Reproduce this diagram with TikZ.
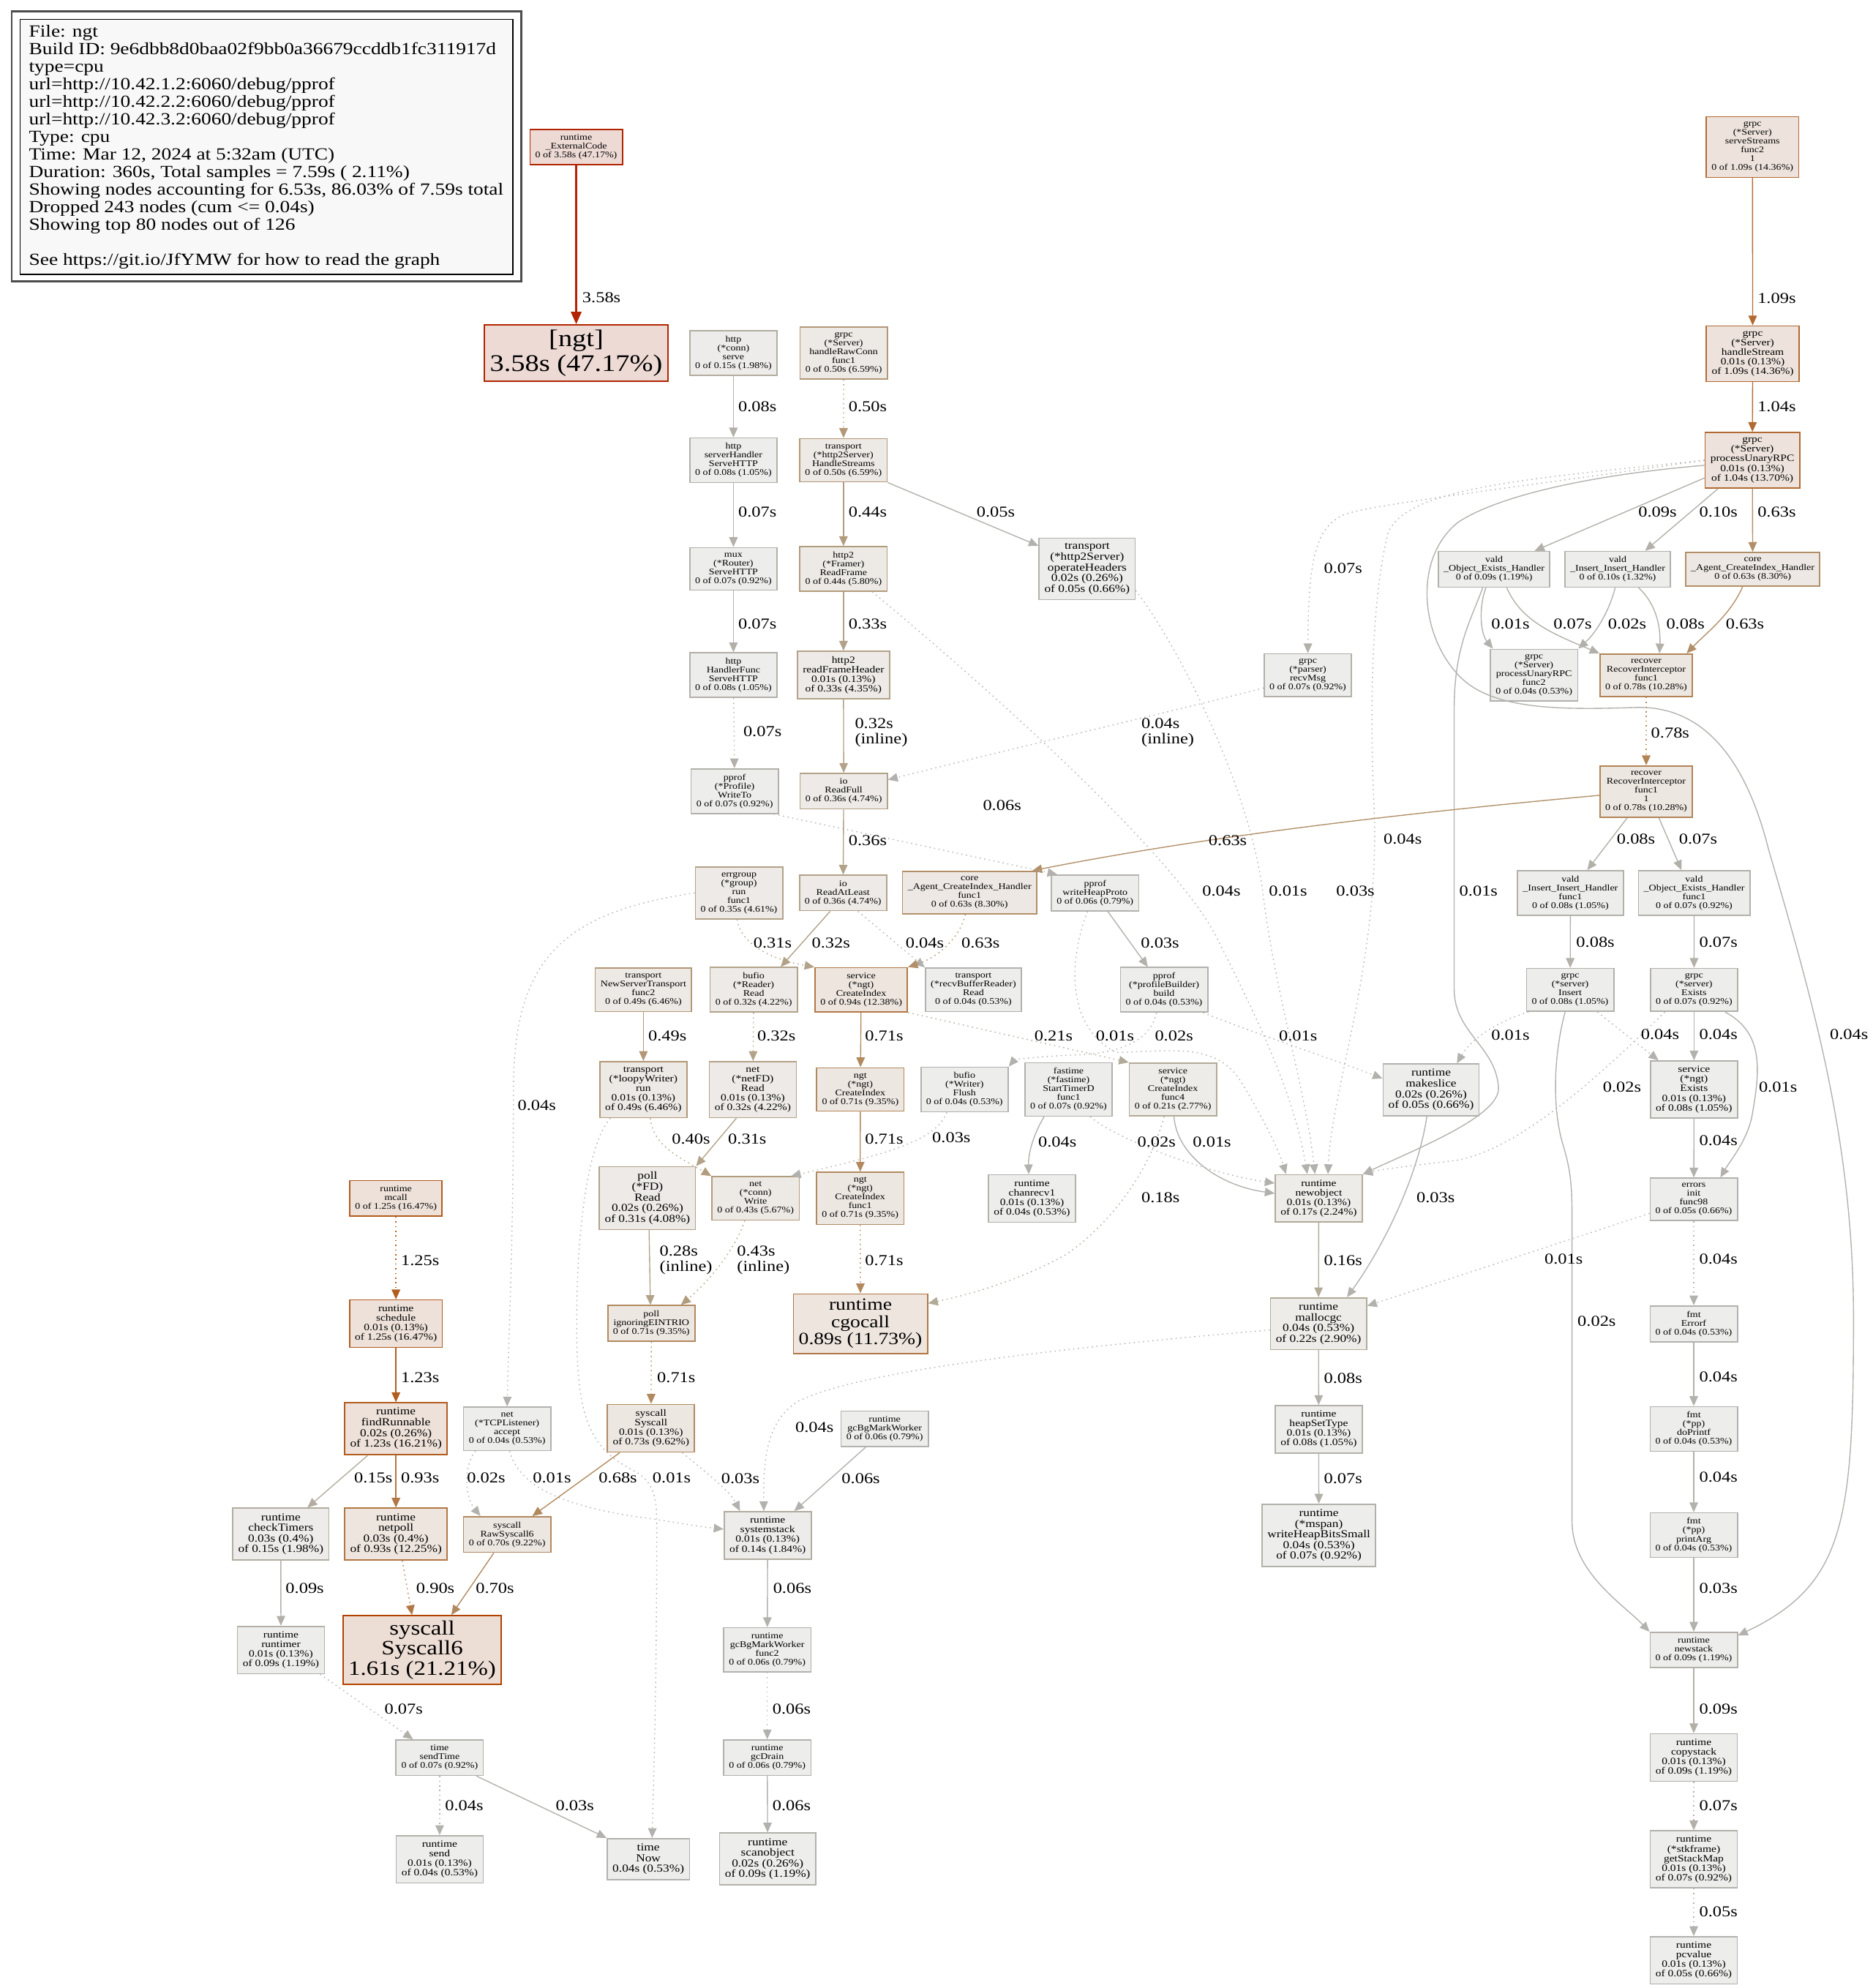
\documentclass[tikz,border=0pt]{standalone}
\usepackage{fontspec}
\setmainfont{Liberation Serif}[FakeStretch=1.18]
\usetikzlibrary{arrows.meta,calc}
% pprof heat scale: bgN fill, fgN border/edge
\definecolor{bg0}{HTML}{EDDAD5}\definecolor{fg0}{HTML}{B22400}
\definecolor{bg1}{HTML}{EDDED5}\definecolor{fg1}{HTML}{B24200}
\definecolor{bg2}{HTML}{EDE1D9}\definecolor{fg2}{HTML}{B25C1F}
\definecolor{bg3}{HTML}{EDE3DC}\definecolor{fg3}{HTML}{B26A32}
\definecolor{bg4}{HTML}{EDE5DE}\definecolor{fg4}{HTML}{B27745}
\definecolor{bg5}{HTML}{EDE7E1}\definecolor{fg5}{HTML}{B28456}
\definecolor{bg6}{HTML}{EDE7E2}\definecolor{fg6}{HTML}{B2895F}
\definecolor{bg7}{HTML}{EDE8E3}\definecolor{fg7}{HTML}{B28F68}
\definecolor{bg8}{HTML}{EDE9E5}\definecolor{fg8}{HTML}{B29877}
\definecolor{bg9}{HTML}{EDEAE6}\definecolor{fg9}{HTML}{B29C7E}
\definecolor{bg10}{HTML}{EDEAE7}\definecolor{fg10}{HTML}{B2A289}
\definecolor{bg11}{HTML}{EDECE9}\definecolor{fg11}{HTML}{B2AA99}
\definecolor{bg12}{HTML}{EDECEA}\definecolor{fg12}{HTML}{B2ADA0}
\definecolor{bg13}{HTML}{EDEDEC}\definecolor{fg13}{HTML}{B2B0A9}
\definecolor{bg14}{HTML}{EDEDEC}\definecolor{fg14}{HTML}{B2B1AD}
\definecolor{legfill}{HTML}{F8F8F8}

% size + fixed line pitch (no lineskip fallback)
\newcommand{\gvfont}[2]{\fontsize{#1}{#2}\selectfont\lineskiplimit=-\maxdimen\lineskip=0pt\relax}

\tikzset{
  fn/.style={draw, rectangle, align=center, line width=0.55pt, inner xsep=2.4pt, inner ysep=2.3pt},
  s8/.style={font=\gvfont{3.9}{3.95}},
  s9/.style={font=\gvfont{4.32}{4.3}},
  s10/.style={font=\gvfont{4.83}{4.8}},
  s16/.style={font=\gvfont{7.7}{7.7}},
  s19/.style={font=\gvfont{9.15}{9}},
  s24/.style={font=\gvfont{10.7}{10.9}},
  lv0/.style={fill=bg0,draw=fg0}, lv1/.style={fill=bg1,draw=fg1},
  lv2/.style={fill=bg2,draw=fg2}, lv3/.style={fill=bg3,draw=fg3},
  lv4/.style={fill=bg4,draw=fg4}, lv5/.style={fill=bg5,draw=fg5},
  lv6/.style={fill=bg6,draw=fg6}, lv7/.style={fill=bg7,draw=fg7},
  lv8/.style={fill=bg8,draw=fg8}, lv9/.style={fill=bg9,draw=fg9},
  lv10/.style={fill=bg10,draw=fg10}, lv11/.style={fill=bg11,draw=fg11},
  lv12/.style={fill=bg12,draw=fg12}, lv13/.style={fill=bg13,draw=fg13},
  lv14/.style={fill=bg14,draw=fg14},
  call/.style={-{Triangle[length=0.154cm,width=0.134cm]}, line width=0.45pt},
  dcall/.style={call, dash pattern=on 0.5pt off 1.6pt},
  hotcall/.style={-{Triangle[length=0.2cm,width=0.16cm]}, line width=1.25pt},
  lbl/.style={anchor=west, inner sep=0pt, align=left, font=\gvfont{6.8}{6.8}},
  legtxt/.style={anchor=north west, inner sep=0pt, align=left, font=\gvfont{7.63}{7.89}}
}

\begin{document}
\begin{tikzpicture}[x=0.02cm,y=-0.02cm]
\fill[white] (0,0) rectangle (1477,1568);
\useasboundingbox (0,0) rectangle (1477,1568);

% legend
\draw[black!70,line width=0.8pt] (9.3,9) rectangle (411.2,222);
\draw[fill=legfill,line width=0.5pt] (15.9,15.4) rectangle (404.6,216.4);
\node[legtxt] (legend) at (22.5,19.6) {File: ngt\\Build ID: 9e6dbb8d0baa02f9bb0a36679ccddb1fc311917d\\type=cpu\\url=http://10.42.1.2:6060/debug/pprof\\url=http://10.42.2.2:6060/debug/pprof\\url=http://10.42.3.2:6060/debug/pprof\\Type: cpu\\Time: Mar 12, 2024 at 5:32am (UTC)\\Duration: 360s, Total samples = 7.59s ( 2.11\%)\\Showing nodes accounting for 6.53s, 86.03\% of 7.59s total\\Dropped 243 nodes (cum <= 0.04s)\\Showing top 80 nodes out of 126\\[7.89pt]See https://git.io/JfYMW for how to read the graph};

% nodes, rank by rank
\node[fn,lv0,s8] (extcode) at (454.5,116) {runtime\\\_ExternalCode\\0 of 3.58s (47.17\%)};
\node[fn,lv3,s8] (servestreams) at (1382.3,116) {grpc\\(*Server)\\serveStreams\\func2\\1\\0 of 1.09s (14.36\%)};

\node[fn,lv0,s24] (ngtn) at (454.5,278.5) {[ngt]\\3.58s (47.17\%)};
\node[fn,lv12,s8] (httpserve) at (578.5,278.4) {http\\(*conn)\\serve\\0 of 0.15s (1.98\%)};
\node[fn,lv8,s8] (rawconn) at (665.5,278.5) {grpc\\(*Server)\\handleRawConn\\func1\\0 of 0.50s (6.59\%)};
\node[fn,lv3,s9] (handlestream) at (1382.5,279) {grpc\\(*Server)\\handleStream\\0.01s (0.13\%)\\of 1.09s (14.36\%)};

\node[fn,lv13,s8] (servehttp) at (578.5,363) {http\\serverHandler\\ServeHTTP\\0 of 0.08s (1.05\%)};
\node[fn,lv8,s8] (handlestreams) at (665.3,363) {transport\\(*http2Server)\\HandleStreams\\0 of 0.50s (6.59\%)};
\node[fn,lv3,s9] (unaryrpc) at (1382.2,363) {grpc\\(*Server)\\processUnaryRPC\\0.01s (0.13\%)\\of 1.04s (13.70\%)};

\node[fn,lv13,s8] (router) at (578.5,448.7) {mux\\(*Router)\\ServeHTTP\\0 of 0.07s (0.92\%)};
\node[fn,lv9,s8] (readframe) at (665.3,448.7) {http2\\(*Framer)\\ReadFrame\\0 of 0.44s (5.80\%)};
\node[fn,lv14,s10] (opheaders) at (857.5,448.7) {transport\\(*http2Server)\\operateHeaders\\0.02s (0.26\%)\\of 0.05s (0.66\%)};
\node[fn,lv13,s8] (objhandler) at (1178.5,449) {vald\\\_Object\_Exists\_Handler\\0 of 0.09s (1.19\%)};
\node[fn,lv13,s8] (inshandler) at (1276,449) {vald\\\_Insert\_Insert\_Handler\\0 of 0.10s (1.32\%)};
\node[fn,lv7,s8] (coreh) at (1382.5,449) {core\\\_Agent\_CreateIndex\_Handler\\0 of 0.63s (8.30\%)};

\node[fn,lv13,s8] (handlerfunc) at (578.5,532.5) {http\\HandlerFunc\\ServeHTTP\\0 of 0.08s (1.05\%)};
\node[fn,lv10,s9] (readframehdr) at (665.3,532.5) {http2\\readFrameHeader\\0.01s (0.13\%)\\of 0.33s (4.35\%)};
\node[fn,lv13,s8] (recvmsg) at (1031.6,532.6) {grpc\\(*parser)\\recvMsg\\0 of 0.07s (0.92\%)};
\node[fn,lv14,s8] (purfunc2) at (1210,532.5) {grpc\\(*Server)\\processUnaryRPC\\func2\\0 of 0.04s (0.53\%)};
\node[fn,lv5,s8] (recover1) at (1298.5,532.6) {recover\\RecoverInterceptor\\func1\\0 of 0.78s (10.28\%)};

\node[fn,lv13,s8] (writeto) at (579.5,624) {pprof\\(*Profile)\\WriteTo\\0 of 0.07s (0.92\%)};
\node[fn,lv10,s8] (readfull) at (665.5,624) {io\\ReadFull\\0 of 0.36s (4.74\%)};
\node[fn,lv5,s8] (recover2) at (1298.5,624.3) {recover\\RecoverInterceptor\\func1\\1\\0 of 0.78s (10.28\%)};

\node[fn,lv10,s8] (errgroup) at (582.9,704.3) {errgroup\\(*group)\\run\\func1\\0 of 0.35s (4.61\%)};
\node[fn,lv10,s8] (readatleast) at (665,704.3) {io\\ReadAtLeast\\0 of 0.36s (4.74\%)};
\node[fn,lv7,s8] (coreh1) at (764.8,704) {core\\\_Agent\_CreateIndex\_Handler\\func1\\0 of 0.63s (8.30\%)};
\node[fn,lv14,s8] (writeheap) at (863.8,704.3) {pprof\\writeHeapProto\\0 of 0.06s (0.79\%)};
\node[fn,lv13,s8] (insfunc1) at (1238.7,704.3) {vald\\\_Insert\_Insert\_Handler\\func1\\0 of 0.08s (1.05\%)};
\node[fn,lv13,s8] (objfunc1) at (1336.3,704.3) {vald\\\_Object\_Exists\_Handler\\func1\\0 of 0.07s (0.92\%)};

\node[fn,lv8,s8] (nst) at (507.5,780.7) {transport\\NewServerTransport\\func2\\0 of 0.49s (6.46\%)};
\node[fn,lv10,s8] (bufioread) at (594.5,780.7) {bufio\\(*Reader)\\Read\\0 of 0.32s (4.22\%)};
\node[fn,lv4,s8] (svccreate) at (679.3,780.7) {service\\(*ngt)\\CreateIndex\\0 of 0.94s (12.38\%)};
\node[fn,lv14,s8] (recvbuf) at (767.8,780.7) {transport\\(*recvBufferReader)\\Read\\0 of 0.04s (0.53\%)};
\node[fn,lv14,s8] (profbuild) at (918.2,780.7) {pprof\\(*profileBuilder)\\build\\0 of 0.04s (0.53\%)};
\node[fn,lv13,s8] (grpcinsert) at (1238.5,780.8) {grpc\\(*server)\\Insert\\0 of 0.08s (1.05\%)};
\node[fn,lv13,s8] (grpcexists) at (1336.2,780.8) {grpc\\(*server)\\Exists\\0 of 0.07s (0.92\%)};

\node[fn,lv8,s9] (loopy) at (507.5,859.4) {transport\\(*loopyWriter)\\run\\0.01s (0.13\%)\\of 0.49s (6.46\%)};
\node[fn,lv10,s9] (netfdread) at (593.8,859.4) {net\\(*netFD)\\Read\\0.01s (0.13\%)\\of 0.32s (4.22\%)};
\node[fn,lv6,s8] (ngtcreate) at (678.6,859.3) {ngt\\(*ngt)\\CreateIndex\\0 of 0.71s (9.35\%)};
\node[fn,lv14,s8] (flush) at (760.8,859.3) {bufio\\(*Writer)\\Flush\\0 of 0.04s (0.53\%)};
\node[fn,lv13,s8] (fastime) at (842.9,859.3) {fastime\\(*fastime)\\StartTimerD\\func1\\0 of 0.07s (0.92\%)};
\node[fn,lv11,s8] (func4) at (925.2,859.3) {service\\(*ngt)\\CreateIndex\\func4\\0 of 0.21s (2.77\%)};
\node[fn,lv14,s10] (makeslice) at (1128.8,859.6) {runtime\\makeslice\\0.02s (0.26\%)\\of 0.05s (0.66\%)};
\node[fn,lv13,s9] (svcexists) at (1336.2,859.3) {service\\(*ngt)\\Exists\\0.01s (0.13\%)\\of 0.08s (1.05\%)};

\node[fn,lv2,s8] (mcall) at (312.3,945.2) {runtime\\mcall\\0 of 1.25s (16.47\%)};
\node[fn,lv10,s10] (fdread) at (510.7,945) {poll\\(*FD)\\Read\\0.02s (0.26\%)\\of 0.31s (4.08\%)};
\node[fn,lv9,s8] (connwrite) at (596,945.2) {net\\(*conn)\\Write\\0 of 0.43s (5.67\%)};
\node[fn,lv6,s8] (ngtfunc1) at (678.5,945.2) {ngt\\(*ngt)\\CreateIndex\\func1\\0 of 0.71s (9.35\%)};
\node[fn,lv14,s9] (chanrecv) at (814,945.3) {runtime\\chanrecv1\\0.01s (0.13\%)\\of 0.04s (0.53\%)};
\node[fn,lv11,s9] (newobject) at (1040.2,945.2) {runtime\\newobject\\0.01s (0.13\%)\\of 0.17s (2.24\%)};
\node[fn,lv14,s8] (errinit) at (1336,946) {errors\\init\\func98\\0 of 0.05s (0.66\%)};

\node[fn,lv2,s9] (schedule) at (312.3,1044) {runtime\\schedule\\0.01s (0.13\%)\\of 1.25s (16.47\%)};
\node[fn,lv6,s8] (eintr) at (513.8,1043.8) {poll\\ignoringEINTRIO\\0 of 0.71s (9.35\%)};
\node[fn,lv4,s16] (cgocall) at (678.7,1044) {runtime\\cgocall\\0.89s (11.73\%)};
\node[fn,lv11,s10] (mallocgc) at (1040,1044) {runtime\\mallocgc\\0.04s (0.53\%)\\of 0.22s (2.90\%)};
\node[fn,lv14,s8] (errorf) at (1336,1044.1) {fmt\\Errorf\\0 of 0.04s (0.53\%)};

\node[fn,lv2,s10] (findrunnable) at (312.3,1126.8) {runtime\\findRunnable\\0.02s (0.26\%)\\of 1.23s (16.21\%)};
\node[fn,lv14,s8] (tcpaccept) at (400,1126.9) {net\\(*TCPListener)\\accept\\0 of 0.04s (0.53\%)};
\node[fn,lv6,s9] (syscallsys) at (513.5,1126.5) {syscall\\Syscall\\0.01s (0.13\%)\\of 0.73s (9.62\%)};
\node[fn,lv14,s8] (gcbg) at (697.8,1127) {runtime\\gcBgMarkWorker\\0 of 0.06s (0.79\%)};
\node[fn,lv13,s9] (heapsettype) at (1040.2,1127.3) {runtime\\heapSetType\\0.01s (0.13\%)\\of 0.08s (1.05\%)};
\node[fn,lv14,s8] (doprintf) at (1336,1127) {fmt\\(*pp)\\doPrintf\\0 of 0.04s (0.53\%)};

\node[fn,lv12,s10] (checktimers) at (221.5,1210) {runtime\\checkTimers\\0.03s (0.4\%)\\of 0.15s (1.98\%)};
\node[fn,lv4,s10] (netpoll) at (312.3,1210) {runtime\\netpoll\\0.03s (0.4\%)\\of 0.93s (12.25\%)};
\node[fn,lv6,s8] (rawsyscall6) at (400,1210.3) {syscall\\RawSyscall6\\0 of 0.70s (9.22\%)};
\node[fn,lv12,s9] (systemstack) at (605.5,1211) {runtime\\systemstack\\0.01s (0.13\%)\\of 0.14s (1.84\%)};
\node[fn,lv13,s10] (writeheapbits) at (1040.3,1211) {runtime\\(*mspan)\\writeHeapBitsSmall\\0.04s (0.53\%)\\of 0.07s (0.92\%)};
\node[fn,lv14,s8] (printarg) at (1336,1210.8) {fmt\\(*pp)\\printArg\\0 of 0.04s (0.53\%)};

\node[fn,lv13,s9] (runtimer) at (221.6,1301.4) {runtime\\runtimer\\0.01s (0.13\%)\\of 0.09s (1.19\%)};
\node[fn,lv1,s19] (syscall6) at (333,1301.4) {syscall\\Syscall6\\1.61s (21.21\%)};
\node[fn,lv14,s8] (gcbgfunc2) at (605.2,1301.3) {runtime\\gcBgMarkWorker\\func2\\0 of 0.06s (0.79\%)};
\node[fn,lv13,s8] (newstack) at (1336,1301.4) {runtime\\newstack\\0 of 0.09s (1.19\%)};

\node[fn,lv13,s8] (sendtime) at (346.8,1386.3) {time\\sendTime\\0 of 0.07s (0.92\%)};
\node[fn,lv14,s8] (gcdrain) at (605.2,1386.3) {runtime\\gcDrain\\0 of 0.06s (0.79\%)};
\node[fn,lv13,s9] (copystack) at (1336,1386.2) {runtime\\copystack\\0.01s (0.13\%)\\of 0.09s (1.19\%)};

\node[fn,lv14,s9] (rtsend) at (346.8,1466.5) {runtime\\send\\0.01s (0.13\%)\\of 0.04s (0.53\%)};
\node[fn,lv14,s10] (timenow) at (511.4,1466.3) {time\\Now\\0.04s (0.53\%)};
\node[fn,lv13,s10] (scanobject) at (605.5,1466.2) {runtime\\scanobject\\0.02s (0.26\%)\\of 0.09s (1.19\%)};
\node[fn,lv13,s9] (getstackmap) at (1336,1466.5) {runtime\\(*stkframe)\\getStackMap\\0.01s (0.13\%)\\of 0.07s (0.92\%)};
\node[fn,lv14,s9] (pcvalue) at (1336,1546.2) {runtime\\pcvalue\\0.01s (0.13\%)\\of 0.05s (0.66\%)};

% grpc server side (right)
\draw[hotcall,fg0] (extcode) -- (ngtn);
\draw[call,fg3] (servestreams) -- (handlestream);
\draw[call,fg3] (handlestream) -- (unaryrpc);
\draw[call,fg13] ($(unaryrpc.west)+(0,14)$) -- ($(objhandler.north)+(32,0)$);
\draw[call,fg13] ($(unaryrpc.south)+(-27,0)$) -- ($(inshandler.north)+(21.6,0)$);
\draw[call,fg7] (unaryrpc) -- (coreh);
\draw[dcall,fg13] (unaryrpc.west) .. controls (1200,384) and (1080,398) .. (1060,406) .. controls (1038,416) and (1032,440) .. (recvmsg.north);
\draw[dcall,fg14] (unaryrpc.west) .. controls (1200,378) and (1110,385) .. (1095,420) .. controls (1082,470) and (1080,560) .. (1084,640) .. controls (1088,760) and (1050,860) .. ($(newobject.north)+(7.3,0)$);
\draw[call,fg14] ($(unaryrpc.west)+(0,4)$) .. controls (1250,375) and (1180,392) .. (1150,412) .. controls (1115,440) and (1120,500) .. (1150,532) .. controls (1175,560) and (1230,560) .. (1290,558) .. controls (1350,556) and (1380,610) .. (1395,670) .. controls (1430,790) and (1462,900) .. (1462,1040) .. controls (1462,1200) and (1455,1250) .. ($(newstack.north east)+(0,3)$);
\draw[call,fg14] ($(objhandler.south)+(-6.5,0)$) .. controls (1166,480) and (1168,500) .. ($(purfunc2.north west)+(2.5,0)$);
\draw[call,fg13] ($(objhandler.south)+(10,0)$) .. controls (1200,490) and (1225,500) .. (recover1.north west);
\draw[call,fg14] ($(objhandler.south)+(-9,0)$) .. controls (1160,490) and (1147,510) .. (1147,560) -- (1147,780) .. controls (1147,815) and (1180,825) .. (1182,858) .. controls (1183,880) and (1120,905) .. (newobject.north east);
\draw[call,fg14] ($(inshandler.south)+(-2,0)$) .. controls (1270,480) and (1260,498) .. (purfunc2.north east);
\draw[call,fg13] ($(inshandler.south)+(16.5,0)$) .. controls (1305,475) and (1310,492) .. ($(recover1.north)+(10.5,0)$);
\draw[call,fg7] ($(coreh.south)+(-8,0)$) .. controls (1365,485) and (1345,500) .. ($(recover1.north east)+(-5,0)$);
\draw[dcall,fg5] (recover1) -- (recover2);
\draw[call,fg7] ($(recover2.west)+(0,3)$) .. controls (1100,642) and (950,660) .. ($(coreh1.north east)+(-4,0)$);
\draw[call,fg13] ($(recover2.south)+(-15,0)$) -- ($(insfunc1.north)+(13.3,0)$);
\draw[call,fg13] ($(recover2.south)+(10,0)$) -- ($(objfunc1.north)+(-10,0)$);
\draw[call,fg13] (insfunc1) -- (grpcinsert);
\draw[call,fg13] (objfunc1) -- (grpcexists);
\draw[dcall,fg14] ($(grpcinsert.south west)+(2,0)$) .. controls (1180,806) and (1160,820) .. ($(makeslice.north east)+(-18,0)$);
\draw[dcall,fg14] ($(grpcinsert.south)+(21.5,0)$) -- ($(svcexists.north)+(-28,0)$);
\draw[call,fg14] ($(grpcinsert.south)+(-4,0)$) .. controls (1226,830) and (1224,870) .. (1232,900) .. controls (1238,920) and (1240,930) .. (1240,960) -- (1240,1200) .. controls (1240,1240) and (1280,1265) .. (newstack.north west);
\draw[call,fg14] (grpcexists) -- (svcexists);
\draw[call,fg14] ($(grpcexists.south)+(24.5,0)$) .. controls (1392,815) and (1388,845) .. (1382,880) .. controls (1378,900) and (1365,915) .. ($(errinit.north)+(21,0)$);
\draw[dcall,fg14] ($(grpcexists.south)+(-23,0)$) .. controls (1260,850) and (1200,905) .. (1150,915) .. controls (1110,920) and (1090,922) .. (newobject.north east);
\draw[call,fg14] (svcexists) -- (errinit);
\draw[dcall,fg14] (errinit) -- (errorf);
\draw[call,fg14] (errorf) -- (doprintf);
\draw[call,fg14] (doprintf) -- (printarg);
\draw[call,fg14] (printarg) -- (newstack);
\draw[call,fg13] (newstack) -- (copystack);
\draw[dcall,fg13] (copystack) -- (getstackmap);
\draw[dcall,fg14] (getstackmap) -- (pcvalue);
\draw[dcall,fg14] ($(errinit.west)+(0,11)$) -- ($(mallocgc.east)+(0,-14)$);

% http / transport side (middle)
\draw[call,fg13] (httpserve) -- (servehttp);
\draw[call,fg13] (servehttp) -- (router);
\draw[call,fg13] (router) -- (handlerfunc);
\draw[dcall,fg13] (handlerfunc) -- (writeto);
\draw[dcall,fg14] ($(writeto.south east)+(-4,0)$) -- ($(writeheap.north west)+(5,0)$);
\draw[dcall,fg8] (rawconn) -- (handlestreams);
\draw[call,fg9] (handlestreams) -- (readframe);
\draw[call,fg14] (handlestreams.south east) -- ($(opheaders.north west)+(0,6.5)$);
\draw[call,fg10] (readframe) -- (readframehdr);
\draw[call,fg10] (readframehdr) -- (readfull);
\draw[call,fg10] (readfull) -- (readatleast);
\draw[dcall,fg14] ($(recvmsg.west)+(0,10)$) .. controls (950,555) and (800,590) .. ($(readfull.east)+(0,-9)$);
\draw[dcall,fg14] ($(readframe.south)+(22.7,0)$) .. controls (800,560) and (930,680) .. (960,740) .. controls (990,800) and (1020,860) .. ($(newobject.north)+(-9,0)$);
\draw[dcall,fg14] ($(opheaders.east)+(0,17)$) .. controls (930,510) and (985,620) .. (996,703) .. controls (1005,780) and (1030,860) .. ($(newobject.north)+(-3,0)$);
\draw[dcall,fg14] ($(writeheap.south)+(-6,0)$) .. controls (842,760) and (842,810) .. (880,830) .. controls (920,830) and (960,820) .. (980,855) .. controls (995,880) and (1008,905) .. ($(newobject.north west)+(9,0)$);
\draw[call,fg10] ($(readatleast.south)+(-10.2,0)$) -- ($(bufioread.north)+(21.3,0)$);
\draw[dcall,fg14] ($(readatleast.south)+(11.8,0)$) -- (recvbuf.north west);
\draw[dcall,fg10] ($(errgroup.south)+(-1.4,0)$) .. controls (583,740) and (600,755) .. (svccreate.north west);
\draw[dcall,fg14] (errgroup.west) .. controls (440,720) and (405,760) .. (405,860) .. controls (405,980) and (401,1060) .. (tcpaccept.north);
\draw[dcall,fg7] ($(coreh1.south)+(-3.4,0)$) .. controls (757,740) and (740,755) .. (svccreate.north east);
\draw[call,fg14] ($(writeheap.south)+(10,0)$) -- ($(profbuild.north)+(-12.8,0)$);
\draw[call,fg8] (nst) -- (loopy);
\draw[dcall,fg10] (bufioread) -- (netfdread);
\draw[call,fg6] (svccreate) -- (ngtcreate);
\draw[dcall,fg11] (svccreate.south east) -- (func4.north west);
\draw[dcall,fg14] ($(profbuild.south)+(-6,0)$) .. controls (908,818) and (890,830) .. (850,832) .. controls (820,833) and (800,836) .. (flush.north east);
\draw[dcall,fg14] ($(profbuild.south east)+(-4,0)$) .. controls (990,815) and (1050,835) .. ($(makeslice.west)+(0,-9)$);
\draw[dcall,fg9] ($(loopy.south)+(5.5,0)$) .. controls (515,905) and (540,915) .. (connwrite.north west);
\draw[dcall,fg14] ($(loopy.south)+(-26,0)$) .. controls (465,900) and (456,960) .. (455,1030) .. controls (454,1110) and (460,1140) .. (500,1160) .. controls (515,1168) and (518,1180) .. (518,1200) .. controls (518,1350) and (515,1420) .. ($(timenow.north)+(3,0)$);
\draw[call,fg10] ($(netfdread.south)+(-13,0)$) -- (fdread.north east);
\draw[call,fg6] (ngtcreate) -- (ngtfunc1);
\draw[dcall,fg14] ($(flush.south)+(-14,0)$) .. controls (738,900) and (700,910) .. ($(connwrite.north east)+(-7,0)$);
\draw[call,fg14] ($(fastime.south)+(-19.4,0)$) .. controls (815,895) and (811,910) .. ($(chanrecv.north)+(-2.5,0)$);
\draw[dcall,fg14] ($(fastime.south)+(17,0)$) .. controls (880,898) and (950,925) .. ($(newobject.west)+(0,-12)$);
\draw[call,fg14] ($(func4.south)+(0.8,0)$) .. controls (928,910) and (960,935) .. ($(newobject.west)+(0,-4)$);
\draw[dcall,fg11] ($(func4.south)+(-7,0)$) .. controls (905,930) and (870,970) .. (840,990) .. controls (800,1012) and (760,1022) .. ($(cgocall.east)+(0,-16)$);
\draw[call,fg14] ($(makeslice.south)+(-3.3,0)$) .. controls (1118,930) and (1090,985) .. ($(mallocgc.north)+(22.5,0)$);
\draw[call,fg11] (newobject) -- (mallocgc);
\draw[call,fg13] (mallocgc) -- (heapsettype);
\draw[call,fg13] (heapsettype) -- (writeheapbits);
\draw[dcall,fg14] ($(mallocgc.west)+(0,5)$) .. controls (850,1062) and (680,1080) .. (630,1105) .. controls (605,1120) and (602,1150) .. ($(systemstack.north)+(-3,0)$);
\draw[dcall,fg6] (ngtfunc1) -- (cgocall);

% syscalls and scheduler (left)
\draw[call,fg10] ($(fdread.south)+(1.3,0)$) -- ($(eintr.north)+(-0.8,0)$);
\draw[dcall,fg9] ($(connwrite.south)+(-8.6,0)$) .. controls (580,985) and (560,1010) .. ($(eintr.north east)+(-11.6,0)$);
\draw[dcall,fg6] (eintr) -- (syscallsys);
\draw[call,fg6] ($(syscallsys.south)+(-24.7,0)$) -- ($(rawsyscall6.north east)+(-15,0)$);
\draw[dcall,fg14] ($(syscallsys.south east)+(-10,0)$) .. controls (555,1160) and (575,1175) .. ($(systemstack.north west)+(13,0)$);
\draw[dcall,fg14] ($(tcpaccept.south)+(-25,0)$) .. controls (366,1155) and (366,1180) .. ($(rawsyscall6.north)+(-21,0)$);
\draw[dcall,fg14] ($(tcpaccept.south)+(2,0)$) .. controls (410,1175) and (450,1188) .. (500,1196) .. controls (530,1200) and (550,1204) .. ($(systemstack.west)+(0,-5)$);
\draw[call,fg14] ($(gcbg.south)+(-15,0)$) -- ($(systemstack.north)+(21,0)$);
\draw[call,fg14] (systemstack) -- (gcbgfunc2);
\draw[dcall,fg14] (gcbgfunc2) -- (gcdrain);
\draw[call,fg14] (gcdrain) -- (scanobject);
\draw[dcall,fg2] (mcall) -- (schedule);
\draw[call,fg2] (schedule) -- (findrunnable);
\draw[call,fg12] ($(findrunnable.south)+(-22,0)$) -- ($(checktimers.north)+(21,0)$);
\draw[call,fg4] (findrunnable) -- (netpoll);
\draw[call,fg13] (checktimers) -- (runtimer);
\draw[dcall,fg4] ($(netpoll.south)+(5,0)$) -- ($(syscall6.north)+(-8,0)$);
\draw[call,fg6] ($(rawsyscall6.south)+(-10.5,0)$) -- ($(syscall6.north)+(23,0)$);
\draw[dcall,fg13] ($(runtimer.south)+(31,0)$) -- ($(sendtime.north)+(-21,0)$);
\draw[dcall,fg14] (sendtime) -- (rtsend);
\draw[call,fg14] ($(sendtime.south east)+(-6,0)$) -- (timenow.north west);

% edge weights
\foreach \lx/\ly/\lt [count=\i] in {
  459/235/3.58s, 1386/235.5/1.09s, 1386/320.5/1.04s,
  582/321/0.08s, 669/321/0.50s,
  582/404/0.07s, 669/404/0.44s, 770/404/0.05s, 1292/404/0.09s, 1340/404/0.10s, 1386/404/0.63s,
  1044/448/0.07s,
  582/492/0.07s, 669/492/0.33s, 1176/492/0.01s, 1225/492/0.07s, 1268/492/0.02s, 1314/492/0.08s, 1361/492/0.63s,
  586/577/0.07s, 674/578/{0.32s\\(inline)}, 900/578/{0.04s\\(inline)}, 1302/578/0.78s,
  775/635/0.06s,
  669/663/0.36s, 953/663/0.63s, 1091/662/0.04s, 1275/662/0.08s, 1324/662/0.07s,
  948/703/0.04s, 1000.6/703/0.01s, 1053.7/703/0.03s, 1150.8/703/0.01s,
  594/744/0.31s, 640/744/0.32s, 714/744/0.04s, 758/744/0.63s, 899.6/744/0.03s, 1243/743/0.08s, 1340/743/0.07s,
  511/817/0.49s, 597/817/0.32s, 682/817/0.71s, 815.6/817/0.21s, 864/817/0.01s, 910.6/817/0.02s,
  1008.5/817/0.01s, 1176/816.3/0.01s, 1294/816/0.04s, 1340/816/0.04s, 1443/816/0.04s,
  1264/857.6/0.02s, 1387/857.6/0.01s, 408/872/0.04s,
  529.6/898.5/0.40s, 574/898.5/0.31s, 682/898.5/0.71s, 735/897/0.03s, 818.6/900.5/0.04s,
  896.8/900.5/0.02s, 940.6/900.5/0.01s, 1340/899.6/0.04s,
  900/944.5/0.18s, 1117/944.5/0.03s,
  316/994/1.25s, 520/994/{0.28s\\(inline)}, 581/994/{0.43s\\(inline)}, 682/994/0.71s, 1044/994/0.16s,
  1218/993/0.01s, 1340/993/0.04s, 1244/1042/0.02s,
  316/1086.7/1.23s, 518/1086.7/0.71s, 1044/1087/0.08s, 1340/1086/0.04s, 627/1126/0.04s,
  279/1165.7/0.15s, 316/1165.7/0.93s, 368/1165.7/0.02s, 420/1165.7/0.01s, 472/1165.7/0.68s,
  514.4/1165.7/0.01s, 568.6/1166/0.03s, 663.6/1166/0.06s, 1044/1166/0.07s, 1340/1165/0.04s,
  225/1253/0.09s, 328/1253/0.90s, 375/1253/0.70s, 609.5/1253/0.06s, 1340/1253/0.03s,
  303/1347.7/0.07s, 609/1347.7/0.06s, 1340/1347.7/0.09s,
  350.7/1424/0.04s, 438/1424/0.03s, 609/1424/0.06s, 1340/1424/0.07s,
  1340/1508/0.05s}
  \node[lbl] (wt\i) at (\lx,\ly) {\lt};
\end{tikzpicture}
\end{document}
